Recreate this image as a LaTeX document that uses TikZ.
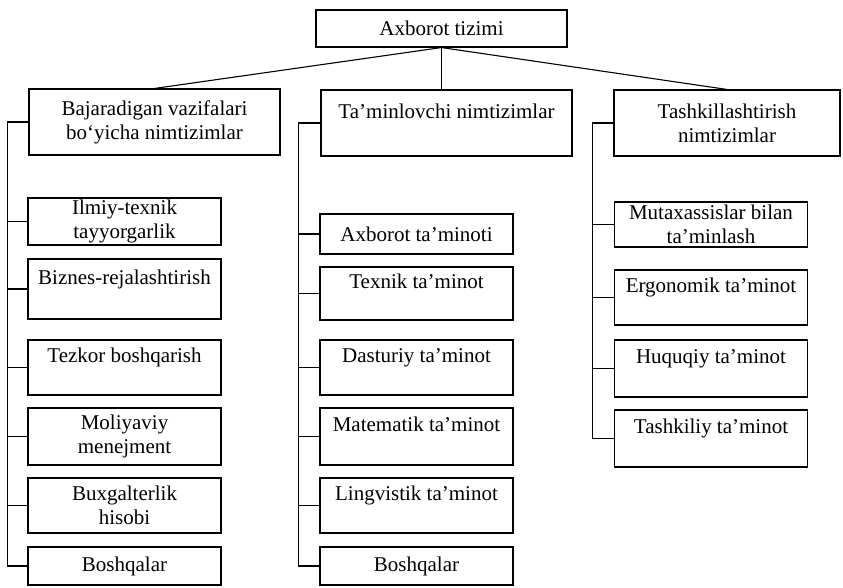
\documentclass[tikz,border=0pt]{standalone}
\usepackage{fontspec}
\setmainfont{Liberation Serif}
\begin{document}
\begin{tikzpicture}[x=1pt, y=-1pt, line width=1.1pt,
  box/.style={draw, align=center, inner sep=1.5pt, font=\fontsize{21}{24}\selectfont},
  mainbox/.style={box, minimum width=251pt, minimum height=66pt},
  subbox/.style={box, minimum width=193pt}]
% Page frame (pixel units of the scan)
\useasboundingbox (0,0) rectangle (843,587);

% Top of the tree
\node[box, minimum width=251pt, minimum height=37pt] (top) at (441.5,28.5) {Axborot tizimi};

% Three groups of subsystems
\node[mainbox] (func) at (154.5,122) {Bajaradigan vazifalari\\bo‘yicha nimtizimlar};
\node[mainbox] (supp) at (446.5,123) {Ta’minlovchi nimtizimlar\\ \mbox{}};
\node[mainbox, minimum width=226pt] (org) at (727,123) {Tashkillashtirish\\nimtizimlar};

% Left column
\node[subbox, minimum height=47pt] (func1) at (124.5,221.5) {Ilmiy-texnik\\tayyorgarlik};
\node[subbox, minimum height=60pt] (func2) at (124.5,289) {Biznes-rejalashtirish\\ \mbox{}};
\node[subbox, minimum height=55pt] (func3) at (124.5,367.5) {Tezkor boshqarish\\ \mbox{}};
\node[subbox, minimum height=57pt] (func4) at (124.5,436.5) {Moliyaviy\\menejment};
\node[subbox, minimum height=55pt] (func5) at (124.5,505.5) {Buxgalterlik\\hisobi};
\node[subbox, minimum height=38pt] (func6) at (124.5,566) {Boshqalar};

% Middle column
\node[subbox, minimum height=40pt] (supp1) at (416.5,234) {Axborot ta’minoti};
\node[subbox, minimum height=53pt] (supp2) at (416.5,293.5) {Texnik ta’minot\\ \mbox{}};
\node[subbox, minimum height=55pt] (supp3) at (416.5,367.5) {Dasturiy ta’minot\\ \mbox{}};
\node[subbox, minimum height=57pt] (supp4) at (416.5,436.5) {Matematik ta’minot\\ \mbox{}};
\node[subbox, minimum height=55pt] (supp5) at (416.5,505.5) {Lingvistik ta’minot\\ \mbox{}};
\node[subbox, minimum height=38pt] (supp6) at (416.5,566) {Boshqalar};

% Right column
\node[subbox, minimum height=45pt] (org1) at (711,224.5) {Mutaxassislar bilan\\ta’minlash};
\node[subbox, minimum height=55pt] (org2) at (711,297.5) {Ergonomik ta’minot\\ \mbox{}};
\node[subbox, minimum height=57pt] (org3) at (711,368.5) {Huquqiy ta’minot\\ \mbox{}};
\node[subbox, minimum height=57pt] (org4) at (711,438.5) {Tashkiliy ta’minot\\ \mbox{}};

% Lines from the top box
\draw (top.south) -- (func.north);
\draw (top.south) -- (top.south |- supp.north);
\draw (top.south) -- (org.north);

% Brackets on the left of each column
\foreach \n in {1,...,6} \draw (func.west) -- ++(-21,0) |- (func\n.west);
\foreach \n in {1,...,6} \draw (supp.west) -- ++(-22,0) |- (supp\n.west);
\foreach \n in {1,...,4} \draw (org.west) -- ++(-21,0) |- (org\n.west);
\end{tikzpicture}
\end{document}
